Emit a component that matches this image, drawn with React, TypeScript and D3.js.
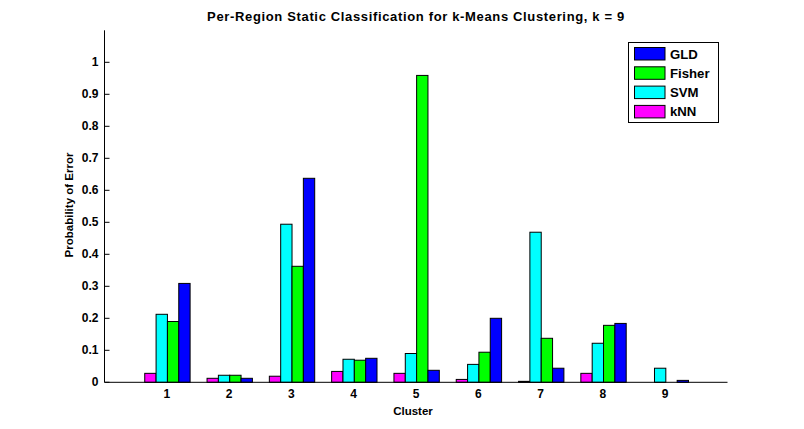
import React from "react";
import * as d3 from "d3";

const clusters = [1, 2, 3, 4, 5, 6, 7, 8, 9];
const seriesNames = ["kNN", "SVM", "Fisher", "GLD"];
const seriesColors = ["#ff00ff", "#00ffff", "#00ff00", "#0000ff"];
const knn = [0.028, 0.0125, 0.019, 0.034, 0.028, 0.009, 0.003, 0.028, 0];
const svm = [0.2125, 0.022, 0.494, 0.072, 0.09, 0.056, 0.469, 0.122, 0.044];
const fisher = [0.19, 0.022, 0.3625, 0.069, 0.959, 0.094, 0.1375, 0.178, 0];
const gld = [0.309, 0.0125, 0.6375, 0.075, 0.0375, 0.2, 0.044, 0.184, 0.006];
const yTicks = [0, 0.1, 0.2, 0.3, 0.4, 0.5, 0.6, 0.7, 0.8, 0.9, 1];
const legendOrder = ["GLD", "Fisher", "SVM", "kNN"];

const series = [knn, svm, fisher, gld];

export default function App() {
  const W = 804, H = 429;
  const x = d3.scaleLinear().domain([0, 10]).range([104.5, 727.5]);
  const y = d3.scaleLinear().domain([0, 1.1]).range([382.3, 30.3]);
  const barW = 0.182;
  const font = "'Liberation Sans', Arial, Helvetica, sans-serif";
  const bars: JSX.Element[] = [];
  clusters.forEach((c, i) => {
    series.forEach((s, j) => {
      const v = s[i];
      if (v <= 0) return;
      const x0 = x(c - 2 * barW + j * barW + 0.01);
      const x1 = x(c - 2 * barW + (j + 1) * barW + 0.01);
      bars.push(
        <rect key={`${i}-${j}`} x={x0} y={y(v)} width={x1 - x0} height={y(0) - y(v)}
          fill={seriesColors[j]} stroke="#000" strokeWidth={1} />
      );
    });
  });
  return (
    <svg width={W} height={H} style={{ position: "absolute", left: 0, top: 0, background: "#fff" }}
      fontFamily={font} fontWeight="bold">
      <rect x={0} y={0} width={W} height={H} fill="#fff" />
      <text x={416} y={21} textAnchor="middle" fontSize={13} letterSpacing={0.65}>
        Per-Region Static Classification for k-Means Clustering, k = 9
      </text>
      {bars}
      {/* y axis */}
      <line x1={x(0)} x2={x(0)} y1={y(1.1)} y2={y(0)} stroke="#000" />
      {yTicks.map((t) => (
        <g key={t}>
          <line x1={x(0)} x2={x(0) + 5} y1={y(t)} y2={y(t)} stroke="#000" />
          <text x={x(0) - 6} y={y(t) + 4} textAnchor="end" fontSize={12}>{t}</text>
        </g>
      ))}
      {/* x axis */}
      <line x1={x(0)} x2={x(10)} y1={y(0)} y2={y(0)} stroke="#000" />
      {clusters.map((c) => (
        <text key={c} x={x(c)} y={y(0) + 16} textAnchor="middle" fontSize={12}>{c}</text>
      ))}
      <text x={413} y={415} textAnchor="middle" fontSize={11.5}>Cluster</text>
      <text transform={`translate(73,205) rotate(-90)`} textAnchor="middle" fontSize={11.5}>
        Probability of Error
      </text>
      {/* legend */}
      <rect x={628.5} y={42.5} width={90} height={80} fill="#fff" stroke="#000" />
      {legendOrder.map((name, k) => {
        const j = seriesNames.indexOf(name);
        const yy = 47.5 + k * 19.3;
        return (
          <g key={name}>
            <rect x={634.5} y={yy} width={30.5} height={12.5} fill={seriesColors[j]} stroke="#000" />
            <text x={670} y={yy + 11} fontSize={13.2}>{name}</text>
          </g>
        );
      })}
    </svg>
  );
}
